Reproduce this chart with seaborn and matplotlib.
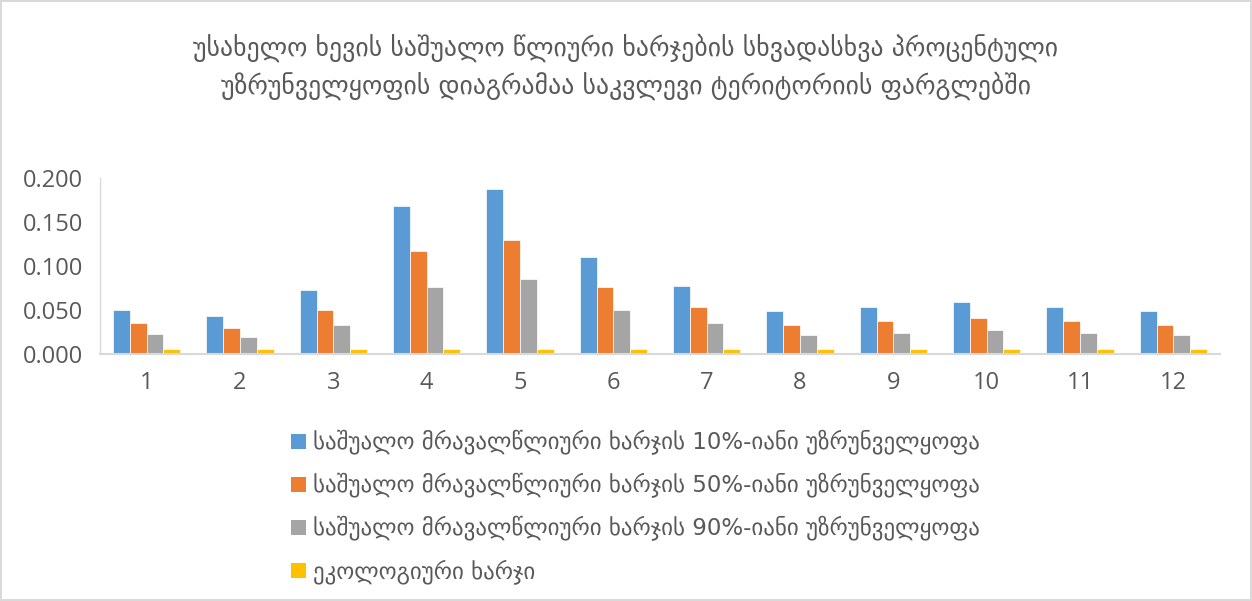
import matplotlib
matplotlib.use("Agg")
import matplotlib.pyplot as plt
import seaborn as sns
import pandas as pd
from matplotlib.ticker import FormatStrFormatter
from matplotlib.patches import Patch

months = [1, 2, 3, 4, 5, 6, 7, 8, 9, 10, 11, 12]
q10 = [0.050, 0.043, 0.073, 0.168, 0.187, 0.110, 0.077, 0.049, 0.053, 0.059, 0.053, 0.049]
q50 = [0.035, 0.029, 0.050, 0.117, 0.129, 0.076, 0.053, 0.033, 0.037, 0.041, 0.037, 0.033]
q90 = [0.023, 0.019, 0.033, 0.076, 0.085, 0.050, 0.035, 0.022, 0.024, 0.027, 0.024, 0.022]
eco = [0.006] * 12

series_names = [
    "საშუალო მრავალწლიური ხარჯის 10%-იანი უზრუნველყოფა",
    "საშუალო მრავალწლიური ხარჯის 50%-იანი უზრუნველყოფა",
    "საშუალო მრავალწლიური ხარჯის 90%-იანი უზრუნველყოფა",
    "ეკოლოგიური ხარჯი",
]
colors = ["#5B9BD5", "#ED7D31", "#A5A5A5", "#FFC000"]
title = ("უსახელო ხევის საშუალო წლიური ხარჯების სხვადასხვა პროცენტული\n"
         "უზრუნველყოფის დიაგრამაა საკვლევი ტერიტორიის ფარგლებში")

rows = []
for name, vals in zip(series_names, [q10, q50, q90, eco]):
    for m, v in zip(months, vals):
        rows.append({"month": str(m), "value": v, "series": name})
df = pd.DataFrame(rows)

sns.set_theme(style="white")
plt.rcParams['font.family'] = ['DejaVu Sans']
txt = "#595959"

fig = plt.figure(figsize=(12.52, 6.01), dpi=100)
fig.patch.set_facecolor("white")
fig.patch.set_edgecolor("#D9D9D9")
fig.patch.set_linewidth(1.5)
ax = fig.add_axes([100/1252, 1 - 354/601, 1120/1252, 176/601])

sns.barplot(data=df, x="month", y="value", hue="series", palette=colors,
            hue_order=series_names, order=[str(m) for m in months],
            width=0.72, ax=ax, legend=False, saturation=1,
            edgecolor="white", linewidth=0.5)

ax.set_ylim(0, 0.2)
ax.set_yticks([0, 0.05, 0.1, 0.15, 0.2])
ax.yaxis.set_major_formatter(FormatStrFormatter("%.3f"))
ax.set_xlabel("")
ax.set_ylabel("")
ax.set_xlim(-0.5, 11.5)
for s in ["top", "right"]:
    ax.spines[s].set_visible(False)
ax.spines["bottom"].set_color("#D9D9D9")
ax.spines["bottom"].set_linewidth(1.5)
ax.spines["left"].set_color("#D9D9D9")
ax.spines["left"].set_linewidth(1.0)
ax.tick_params(axis="both", length=0, colors=txt, labelsize=17)
ax.tick_params(axis="x", pad=12)
ax.tick_params(axis="y", pad=12)
for lab in ax.get_xticklabels() + ax.get_yticklabels():
    lab.set_fontfamily("Open Sans")

fig.text(0.5, 1 - 67/601, title, ha="center", va="center", color=txt,
         fontsize=18.5, linespacing=1.45)

handles = [Patch(facecolor=c, edgecolor="none") for c in colors]
fig.legend(handles, series_names, loc="upper left",
           bbox_to_anchor=(282/1252, 1 - 421/601), frameon=False,
           fontsize=16.5, labelcolor=txt, handlelength=0.65, handleheight=0.65,
           handletextpad=0.3, labelspacing=0.78, borderaxespad=0)

fig.savefig("out.png", dpi=100, facecolor=fig.get_facecolor(), edgecolor=fig.get_edgecolor())
